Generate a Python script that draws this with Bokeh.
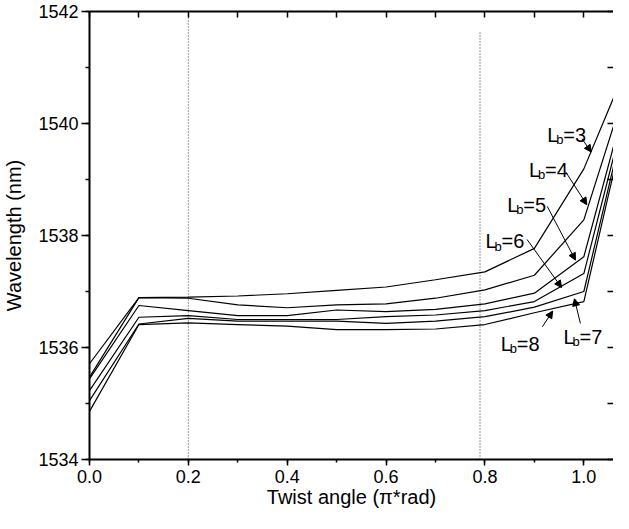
from bokeh.plotting import figure
from bokeh.models import LinearAxis, Range1d, Arrow, NormalHead, SingleIntervalTicker, FixedTicker, NumeralTickFormatter
from bokeh.core.properties import value
from bokeh.embed import file_html
from bokeh.resources import INLINE

# ---- data ----
twist = [0.0, 0.1, 0.2, 0.3, 0.4, 0.5, 0.6, 0.7, 0.8, 0.9, 1.0, 1.1]
lb3 = [1535.71, 1536.89, 1536.90, 1536.92, 1536.96, 1537.02, 1537.08, 1537.21, 1537.35, 1537.77, 1539.19, 1541.30]
lb4 = [1535.47, 1536.89, 1536.88, 1536.76, 1536.71, 1536.76, 1536.78, 1536.88, 1537.03, 1537.29, 1538.28, 1541.07]
lb5 = [1535.44, 1536.75, 1536.66, 1536.57, 1536.57, 1536.67, 1536.64, 1536.68, 1536.78, 1536.97, 1537.62, 1540.90]
lb6 = [1535.23, 1536.54, 1536.57, 1536.50, 1536.50, 1536.50, 1536.55, 1536.58, 1536.66, 1536.82, 1537.32, 1540.78]
lb7 = [1535.05, 1536.42, 1536.52, 1536.47, 1536.47, 1536.47, 1536.43, 1536.47, 1536.55, 1536.72, 1537.00, 1540.72]
lb8 = [1534.86, 1536.41, 1536.44, 1536.41, 1536.38, 1536.32, 1536.32, 1536.33, 1536.41, 1536.62, 1536.82, 1540.64]
series = [lb3, lb4, lb5, lb6, lb7, lb8]

# tick positions for the mirrored (unlabelled) top and right axes
x_ticks_top = [0.0, 0.1, 0.2, 0.3, 0.4, 0.5, 0.6, 0.7, 0.8, 0.9, 1.0]
y_ticks_right = [1534, 1535, 1536, 1537, 1538, 1539, 1540, 1541, 1542]

# dotted reference lines
ref_x = [0.2, 0.79]
ref_bottom = [1534.0, 1534.0]
ref_top = [1542.0, 1541.65]

# annotations L_b = n
label_num = ["=3", "=4", "=5", "=6", "=7", "=8"]
label_x = [0.926, 0.889, 0.845, 0.801, 0.959, 0.832]
label_y = [1539.80, 1539.17, 1538.55, 1537.90, 1536.19, 1536.07]
arrow_x0 = [0.996, 0.963, 0.926, 0.885, 0.993, 0.916]
arrow_y0 = [1539.73, 1539.14, 1538.52, 1537.93, 1536.43, 1536.37]
arrow_x1 = [1.015, 1.006, 0.983, 0.955, 0.981, 0.937]
arrow_y1 = [1539.49, 1538.55, 1537.56, 1537.07, 1536.87, 1536.65]

FONT = "Liberation Sans"

p = figure(width=613, height=513,
           x_range=Range1d(0, 1.06), y_range=Range1d(1534, 1542),
           output_backend="svg", toolbar_location=None,
           min_border_left=85, min_border_right=0, min_border_top=11, min_border_bottom=54)
p.outline_line_color = None
p.grid.visible = False
p.background_fill_color = "white"
p.border_fill_color = "white"

# primary axes
xa = p.below[0]
ya = p.left[0]
xa.ticker = SingleIntervalTicker(interval=0.2, num_minor_ticks=2)
xa.formatter = NumeralTickFormatter(format="0.0")
ya.ticker = SingleIntervalTicker(interval=2, num_minor_ticks=2)
xa.axis_label = "Twist angle (\u03c0*rad)"
ya.axis_label = "Wavelength (nm)"
for ax, tout, mout in [(xa, 6, 3), (ya, 8, 4)]:
    ax.axis_line_width = 2
    ax.axis_line_color = "black"
    ax.major_tick_line_width = 1.5
    ax.minor_tick_line_width = 1.5
    ax.major_tick_line_color = "black"
    ax.minor_tick_line_color = "black"
    ax.major_tick_in = 0
    ax.major_tick_out = tout
    ax.minor_tick_in = 0
    ax.minor_tick_out = mout
    ax.major_label_text_font = FONT
    ax.major_label_text_font_size = "18px"
    ax.major_label_text_color = "black"
    ax.axis_label_text_font = FONT
    ax.axis_label_text_font_size = "20px"
    ax.axis_label_text_font_style = "normal"
    ax.axis_label_text_color = "black"
ya.major_label_standoff = 3
xa.major_label_standoff = 4
ya.axis_label_standoff = 10
xa.axis_label_standoff = 0

# mirrored axes: only inward ticks, no labels
def tick_axis(pos, line):
    ax = LinearAxis(ticker=FixedTicker(ticks=[], minor_ticks=pos))
    ax.minor_tick_in = 6
    ax.minor_tick_out = 0
    ax.major_tick_in = 0
    ax.major_tick_out = 0
    ax.minor_tick_line_width = 1.5
    ax.minor_tick_line_color = "black"
    ax.axis_line_width = 2
    ax.axis_line_color = "black" if line else None
    ax.major_label_standoff = 0
    ax.axis_label_standoff = 0
    return ax

p.add_layout(tick_axis(x_ticks_top, True), "above")
p.add_layout(tick_axis(y_ticks_right, False), "right")

# dotted verticals
p.segment(x0=ref_x, y0=ref_bottom, x1=ref_x, y1=ref_top,
          line_color="#555555", line_width=1.2, line_dash="1 2")

# curves
for s in series:
    p.line(twist, s, line_color="black", line_width=1.2)

# labels L_b=n
p.text(x=label_x, y=label_y, text=["L"] * 6, text_font=value(FONT),
       text_font_size="20px", text_baseline="alphabetic", text_align="left", text_color="black")
p.text(x=label_x, y=label_y, text=["b"] * 6, x_offset=9, y_offset=5, text_font=value(FONT),
       text_font_size="13px", text_baseline="alphabetic", text_align="left", text_color="black")
p.text(x=label_x, y=label_y, text=label_num, x_offset=16, text_font=value(FONT),
       text_font_size="20px", text_baseline="alphabetic", text_align="left", text_color="black")

for i in range(len(label_num)):
    p.add_layout(Arrow(end=NormalHead(size=7, fill_color="black", line_color="black"),
                       x_start=arrow_x0[i], y_start=arrow_y0[i],
                       x_end=arrow_x1[i], y_end=arrow_y1[i],
                       line_color="black", line_width=1))

open("out.html", "w").write(file_html(p, INLINE))
